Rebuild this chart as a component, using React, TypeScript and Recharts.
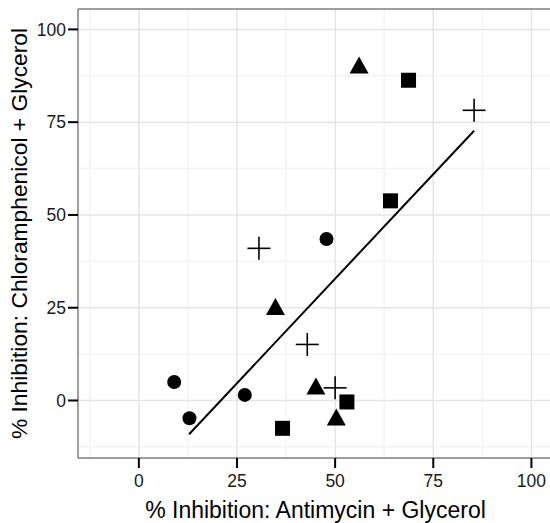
import { ScatterChart, Scatter, XAxis, YAxis, ReferenceLine } from "recharts";

const circles = [
  { x: 9, y: 5 },
  { x: 12.9, y: -4.8 },
  { x: 27, y: 1.5 },
  { x: 47.8, y: 43.5 },
];
const triangles = [
  { x: 56.1, y: 90.3 },
  { x: 34.8, y: 25.2 },
  { x: 45.1, y: 3.8 },
  { x: 50.3, y: -4.6 },
];
const squares = [
  { x: 68.7, y: 86.3 },
  { x: 64.1, y: 53.8 },
  { x: 53, y: -0.4 },
  { x: 36.6, y: -7.5 },
];
const crosses = [
  { x: 30.6, y: 41 },
  { x: 85.4, y: 78.2 },
  { x: 42.9, y: 15.1 },
  { x: 50, y: 3.4 },
];
const fitLine = [
  { x: 12.8, y: -9.1 },
  { x: 85.4, y: 72.7 },
];

const majorTicks = [0, 25, 50, 75, 100];
const minorTicks = [-12.5, 12.5, 37.5, 62.5, 87.5];
const domain: [number, number] = [-15.5, 105.5];

const font = "'Liberation Sans', Arial, Helvetica, sans-serif";
const tickStyle = { fontSize: 17.5, fill: "#1a1a1a", fontFamily: font };

function Dot(p: any) {
  return <circle cx={p.cx} cy={p.cy} r={7} fill="#000" />;
}
function Tri(p: any) {
  const { cx, cy } = p;
  return (
    <polygon
      points={`${cx},${cy - 9} ${cx - 9.5},${cy + 8} ${cx + 9.5},${cy + 8}`}
      fill="#000"
    />
  );
}
function Sq(p: any) {
  return <rect x={p.cx - 7.5} y={p.cy - 7.5} width={15} height={15} fill="#000" />;
}
function Plus(p: any) {
  const { cx, cy } = p;
  return (
    <g stroke="#000" strokeWidth={1.6}>
      <line x1={cx - 11.5} y1={cy} x2={cx + 11.5} y2={cy} />
      <line x1={cx} y1={cy - 11.5} x2={cx} y2={cy + 11.5} />
    </g>
  );
}

export default function App() {
  // the panel runs past the right edge of the page, as in the reference
  return (
    <div
      style={{
        position: "absolute",
        left: 0,
        top: 0,
        width: 550,
        height: 523,
        overflow: "hidden",
      }}
    >
      <ScatterChart
        width={568}
        height={523}
        margin={{ top: 9, right: 15, left: 8, bottom: 0 }}
      >
        {minorTicks.map((t) => (
          <ReferenceLine key={"mx" + t} x={t} stroke="#f4f4f4" strokeWidth={1.5} />
        ))}
        {minorTicks.map((t) => (
          <ReferenceLine key={"my" + t} y={t} stroke="#f4f4f4" strokeWidth={1.5} />
        ))}
        {majorTicks.map((t) => (
          <ReferenceLine key={"Mx" + t} x={t} stroke="#e5e5e5" strokeWidth={1.5} />
        ))}
        {majorTicks.map((t) => (
          <ReferenceLine key={"My" + t} y={t} stroke="#e5e5e5" strokeWidth={1.5} />
        ))}
        <ReferenceLine y={domain[1]} stroke="#7f7f7f" strokeWidth={1.5} />
        <XAxis
          type="number"
          dataKey="x"
          domain={domain}
          allowDataOverflow
          ticks={majorTicks}
          height={65}
          tickSize={10}
          tickMargin={7}
          tick={tickStyle}
          tickLine={{ stroke: "#000", strokeWidth: 2 }}
          axisLine={{ stroke: "#7f7f7f", strokeWidth: 1.5 }}
          label={{
            value: "% Inhibition: Antimycin + Glycerol",
            position: "insideBottom",
            offset: 5,
            fontSize: 23,
            fill: "#000",
            fontFamily: font,
          }}
        />
        <YAxis
          type="number"
          dataKey="y"
          domain={domain}
          allowDataOverflow
          ticks={majorTicks}
          width={70}
          tickSize={10}
          tickMargin={2}
          tick={tickStyle}
          tickLine={{ stroke: "#000", strokeWidth: 2 }}
          axisLine={{ stroke: "#7f7f7f", strokeWidth: 1.5 }}
          label={{
            value: "% Inhibition: Chloramphenicol + Glycerol",
            position: "insideLeft",
            angle: -90,
            offset: 10.5,
            fontSize: 22.8,
            fill: "#000",
            fontFamily: font,
            style: { textAnchor: "middle" },
          }}
        />
        <Scatter
          data={fitLine}
          line={{ stroke: "#000", strokeWidth: 2 }}
          shape={() => <g />}
          isAnimationActive={false}
        />
        <Scatter data={circles} shape={Dot} isAnimationActive={false} />
        <Scatter data={triangles} shape={Tri} isAnimationActive={false} />
        <Scatter data={squares} shape={Sq} isAnimationActive={false} />
        <Scatter data={crosses} shape={Plus} isAnimationActive={false} />
      </ScatterChart>
    </div>
  );
}
